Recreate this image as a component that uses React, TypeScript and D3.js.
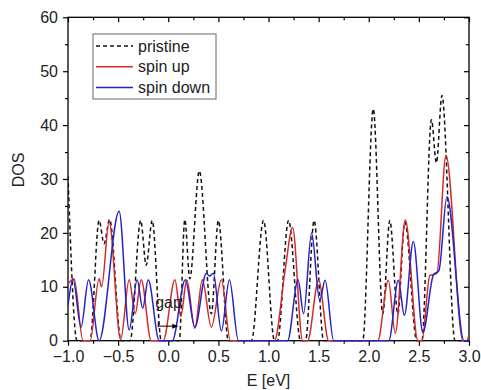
import { useRef, useEffect } from 'react';
import * as d3 from 'd3';

type Pt = [number, number];

// [E (eV), DOS]: peaks, dips and where each curve meets zero
const pristine: Pt[] = [
  [-1.0, 30.5], [-0.91, 0], [-0.78, 0], [-0.69, 22.3], [-0.64, 18], [-0.585, 22.5], [-0.47, 0],
  [-0.38, 0], [-0.275, 22.3], [-0.22, 14], [-0.16, 22.3], [-0.07, 0],
  [0.11, 0], [0.165, 22.5], [0.215, 11.5], [0.31, 31.5], [0.43, 5], [0.5, 22.3], [0.6, 0],
  [0.83, 0], [0.95, 22.3], [1.06, 0],
  [1.09, 0], [1.2, 22.3], [1.32, 0],
  [1.37, 0], [1.455, 22.3], [1.55, 0],
  [1.94, 0], [2.045, 43], [2.14, 5], [2.21, 22.3], [2.29, 5], [2.36, 22], [2.48, 0],
  [2.53, 0], [2.625, 41], [2.675, 33], [2.73, 45.5], [2.86, 0], [3.0, 0],
];

const spinUp: Pt[] = [
  [-1.0, 10.5], [-0.94, 11.5], [-0.85, 0], [-0.78, 0], [-0.69, 11.5], [-0.665, 10], [-0.59, 22],
  [-0.475, 0.2], [-0.39, 11.3], [-0.33, 5], [-0.27, 11.3], [-0.17, 0],
  [-0.05, 0], [0.067, 11.3], [0.125, 4.5], [0.185, 11.3], [0.265, 2.3], [0.34, 11.3], [0.43, 2.5],
  [0.53, 11.3], [0.62, 0],
  [1.06, 0], [1.165, 13], [1.24, 21], [1.34, 0],
  [1.39, 0], [1.5, 11.2], [1.6, 0],
  [2.09, 0], [2.195, 11.2], [2.265, 1.4], [2.365, 22.4], [2.49, 0],
  [2.53, 0], [2.61, 12.1], [2.68, 12.5], [2.77, 34.4], [2.94, 0], [2.975, 0], [3.0, 1],
];

const spinDown: Pt[] = [
  [-1.0, 6.5], [-0.95, 11.4], [-0.87, 2.5], [-0.795, 11.3], [-0.69, 0],
  [-0.49, 24], [-0.39, 2], [-0.31, 11.3], [-0.255, 6], [-0.2, 11.3], [-0.09, 0],
  [0.04, 0], [0.17, 11.3], [0.265, 2.5], [0.38, 12.5], [0.41, 12], [0.45, 12.5], [0.53, 1.8],
  [0.61, 11.3], [0.7, 0],
  [1.19, 0], [1.295, 11.3], [1.35, 5], [1.43, 20], [1.51, 7.5], [1.565, 11.2], [1.65, 0],
  [2.2, 0], [2.295, 11.2], [2.355, 4.7], [2.445, 18.4], [2.54, 1.5], [2.645, 12.2], [2.7, 13],
  [2.78, 26.7], [2.95, 0], [3.0, 0],
];

const xTicks = [-1.0, -0.5, 0.0, 0.5, 1.0, 1.5, 2.0, 2.5, 3.0];
const xMinor = [-0.75, -0.25, 0.25, 0.75, 1.25, 1.75, 2.25, 2.75];
const yTicks = [0, 10, 20, 30, 40, 50, 60];
const yMinor = [5, 15, 25, 35, 45, 55];

const series = [
  { label: 'pristine', data: pristine, color: '#111111', dash: '4,3' },
  { label: 'spin up', data: spinUp, color: '#d42a2a', dash: null },
  { label: 'spin down', data: spinDown, color: '#2323c8', dash: null },
];

// gap arrow, from/to in eV at a DOS height
const gapArrow = { from: -0.1, to: 0.1, dos: 2.7, label: 'gap' };

const FONT = '"Liberation Sans", Arial, sans-serif';

export default function App() {
  const svgRef = useRef<SVGSVGElement>(null);

  useEffect(() => {
    const svg = d3.select(svgRef.current);
    svg.selectAll('*').remove();

    const width = 481;
    const height = 390;
    const margin = { top: 17.3, right: 12, bottom: 49.3, left: 68 };
    const innerWidth = width - margin.left - margin.right;
    const innerHeight = height - margin.top - margin.bottom;

    const x = d3.scaleLinear().domain([-1, 3]).range([0, innerWidth]);
    const y = d3.scaleLinear().domain([0, 60]).range([innerHeight, 0]);

    svg.attr('width', width).attr('height', height);

    svg.append('defs')
      .append('clipPath')
      .attr('id', 'dos-clip')
      .append('rect')
      .attr('x', 0)
      .attr('y', -2)
      .attr('width', innerWidth)
      .attr('height', innerHeight + 3);

    const g = svg.append('g').attr('transform', `translate(${margin.left},${margin.top})`);

    // axes: bottom/left ticks out, top/right ticks in
    const fmt = d3.format('.1f');
    const addAxis = (axis: any, transform: string, labels: boolean) => {
      const a = g.append('g').attr('transform', transform).call(axis);
      a.select('.domain').remove();
      a.selectAll('line').attr('stroke', '#000').attr('stroke-width', 1.2);
      a.selectAll('text')
        .style('font-family', FONT)
        .style('font-size', '16px')
        .attr('fill', '#222');
      if (!labels) a.selectAll('text').remove();
      return a;
    };

    addAxis(d3.axisBottom(x).tickValues(xTicks).tickSize(5).tickPadding(5).tickFormat((d) => fmt(d as number)), `translate(0,${innerHeight})`, true);
    addAxis(d3.axisBottom(x).tickValues(xMinor).tickSize(3).tickFormat(() => ''), `translate(0,${innerHeight})`, false);
    addAxis(d3.axisLeft(y).tickValues(yTicks).tickSize(5).tickPadding(5).tickFormat(d3.format('d')), 'translate(0,0)', true);
    addAxis(d3.axisLeft(y).tickValues(yMinor).tickSize(3).tickFormat(() => ''), 'translate(0,0)', false);
    addAxis(d3.axisTop(x).tickValues(xTicks).tickSize(-5).tickFormat(() => ''), 'translate(0,0)', false);
    addAxis(d3.axisTop(x).tickValues(xMinor).tickSize(-3).tickFormat(() => ''), 'translate(0,0)', false);
    addAxis(d3.axisRight(y).tickValues(yTicks).tickSize(-5).tickFormat(() => ''), `translate(${innerWidth},0)`, false);
    addAxis(d3.axisRight(y).tickValues(yMinor).tickSize(-3).tickFormat(() => ''), `translate(${innerWidth},0)`, false);

    g.append('rect')
      .attr('width', innerWidth)
      .attr('height', innerHeight)
      .attr('fill', 'none')
      .attr('stroke', '#000')
      .attr('stroke-width', 1.3);

    // curves
    const line = d3.line<Pt>()
      .x((d) => x(d[0]))
      .y((d) => y(d[1]))
      .curve(d3.curveMonotoneX);

    const chartArea = g.append('g').attr('clip-path', 'url(#dos-clip)');
    series.forEach((s) => {
      chartArea.append('path')
        .datum(s.data)
        .attr('d', line)
        .attr('fill', 'none')
        .attr('stroke', s.color)
        .attr('stroke-width', 1.5)
        .attr('stroke-dasharray', s.dash ?? null);
    });

    // gap annotation
    const ay = y(gapArrow.dos);
    const ax0 = x(gapArrow.from);
    const ax1 = x(gapArrow.to);
    g.append('line')
      .attr('x1', ax0).attr('x2', ax1 - 4).attr('y1', ay).attr('y2', ay)
      .attr('stroke', '#000').attr('stroke-width', 1);
    g.append('line')
      .attr('x1', ax0).attr('x2', ax0).attr('y1', ay - 4).attr('y2', ay + 1)
      .attr('stroke', '#000').attr('stroke-width', 1);
    g.append('path')
      .attr('d', `M${ax1},${ay} L${ax1 - 6},${ay - 2.5} L${ax1 - 6},${ay + 2.5} Z`)
      .attr('fill', '#000');
    g.append('text')
      .attr('x', ax0 - 3)
      .attr('y', ay - 18)
      .style('font-family', FONT)
      .style('font-size', '16px')
      .attr('fill', '#222')
      .text(gapArrow.label);

    // axis titles
    svg.append('text')
      .attr('x', margin.left + innerWidth / 2)
      .attr('y', 386)
      .attr('text-anchor', 'middle')
      .style('font-family', FONT)
      .style('font-size', '16px')
      .attr('fill', '#222')
      .text('E [eV]');

    svg.append('text')
      .attr('transform', 'translate(24,170) rotate(-90)')
      .attr('text-anchor', 'middle')
      .style('font-family', FONT)
      .style('font-size', '16px')
      .attr('fill', '#222')
      .text('DOS');

    // legend
    const legend = svg.append('g').attr('transform', 'translate(93,34)');
    legend.append('rect')
      .attr('width', 123)
      .attr('height', 65)
      .attr('fill', '#fff')
      .attr('stroke', '#666')
      .attr('stroke-width', 1);
    series.forEach((s, i) => {
      const ly = 12 + i * 20.7;
      legend.append('line')
        .attr('x1', 3).attr('x2', 40).attr('y1', ly).attr('y2', ly)
        .attr('stroke', s.color)
        .attr('stroke-width', 1.5)
        .attr('stroke-dasharray', s.dash ?? null);
      legend.append('text')
        .attr('x', 45)
        .attr('y', ly + 5.5)
        .style('font-family', FONT)
        .style('font-size', '16px')
        .attr('fill', '#222')
        .text(s.label);
    });
  }, []);

  return (
    <div style={{ position: 'absolute', left: 0, top: 0 }}>
      <svg ref={svgRef} style={{ display: 'block' }} />
    </div>
  );
}
